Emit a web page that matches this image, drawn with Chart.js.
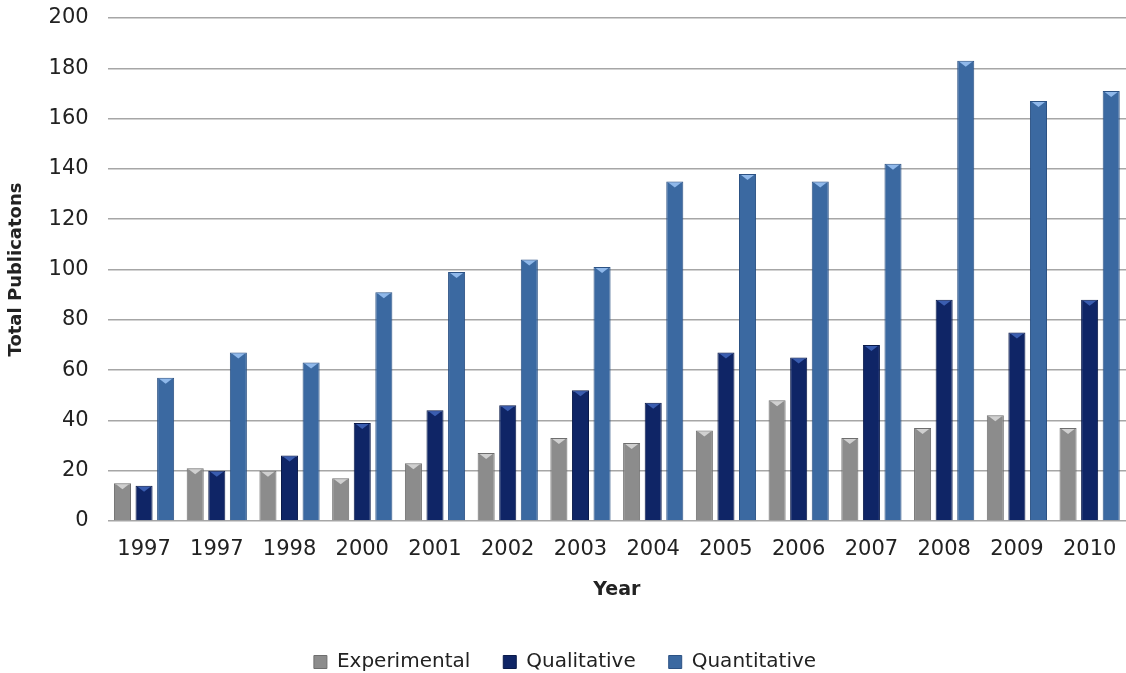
<!DOCTYPE html>
<html>
<head>
<meta charset="utf-8">
<script src="https://cdn.jsdelivr.net/npm/chart.js@4"></script>
<style>
  html, body { margin: 0; padding: 0; background: #fff; }
  #wrap { width: 1126px; height: 673px; }
</style>
</head>
<body>
<div id="wrap"><canvas id="chart" width="1126" height="673"></canvas></div>
<script>
var years = ['1997', '1997', '1998', '2000', '2001', '2002', '2003', '2004', '2005', '2006', '2007', '2008', '2009', '2010']
var experimental = [15, 21, 20, 17, 23, 27, 33, 31, 36, 48, 33, 37, 42, 37]
var qualitative = [14, 20, 26, 39, 44, 46, 52, 47, 67, 65, 70, 88, 75, 88]
var quantitative = [57, 67, 63, 91, 99, 104, 101, 135, 138, 135, 142, 183, 167, 171]

var font = 'DejaVu Sans'

// little bevel triangle on top of each bar, like the original 3d look
var bevel = {
  id: 'bevel',
  afterDatasetsDraw: function(chart) {
    var ctx = chart.ctx
    var tops = ['#d0d0d0', '#3a5db0', '#8fb8ea']
    chart.data.datasets.forEach(function(ds, i) {
      var meta = chart.getDatasetMeta(i)
      meta.data.forEach(function(bar) {
        var w = bar.width
        ctx.save()
        ctx.fillStyle = tops[i]
        ctx.beginPath()
        ctx.moveTo(bar.x - w / 2 + 2, bar.y + 1)
        ctx.lineTo(bar.x + w / 2 - 2, bar.y + 1)
        ctx.lineTo(bar.x, bar.y + 6)
        ctx.closePath()
        ctx.fill()
        ctx.restore()
      })
    })
  }
}

new Chart(document.getElementById('chart'), {
  type: 'bar',
  data: {
    labels: years,
    datasets: [
      { label: 'Experimental', data: experimental, backgroundColor: '#8c8c8c', borderColor: '#6e6e6e', borderWidth: 1 },
      { label: 'Qualitative', data: qualitative, backgroundColor: '#0f2566', borderColor: '#0a1a4a', borderWidth: 1 },
      { label: 'Quantitative', data: quantitative, backgroundColor: '#3b69a1', borderColor: '#2c5284', borderWidth: 1 }
    ]
  },
  options: {
    responsive: false,
    animation: false,
    layout: { padding: { top: 18, right: 0, left: 4, bottom: -9 } },
    categoryPercentage: 0.89,
    barPercentage: 0.79,
    plugins: {
      tooltip: { enabled: false },
      legend: {
        position: 'bottom',
        labels: {
          font: { family: font, size: 20 },
          color: '#222',
          boxWidth: 13,
          boxHeight: 13,
          padding: 33
        }
      }
    },
    scales: {
      x: {
        grid: { display: false },
        border: { display: false },
        ticks: { font: { family: font, size: 21 }, color: '#222', maxRotation: 0, autoSkip: false, padding: 8 },
        title: { display: true, text: 'Year', font: { family: font, size: 19, weight: 'bold' }, color: '#222', padding: { top: 8, bottom: 18 } }
      },
      y: {
        min: 0,
        max: 200,
        ticks: { stepSize: 20, font: { family: font, size: 21 }, color: '#222', padding: 19 },
        grid: { color: '#a6a6a6', lineWidth: 1.5, drawTicks: false },
        border: { display: false },
        title: { display: true, text: 'Total Publicatons', font: { family: font, size: 18, weight: 'bold' }, color: '#222', padding: 2 },
        afterFit: function(scale) { scale.paddingTop = 0 }
      }
    }
  },
  plugins: [bevel]
})
</script>
</body>
</html>
